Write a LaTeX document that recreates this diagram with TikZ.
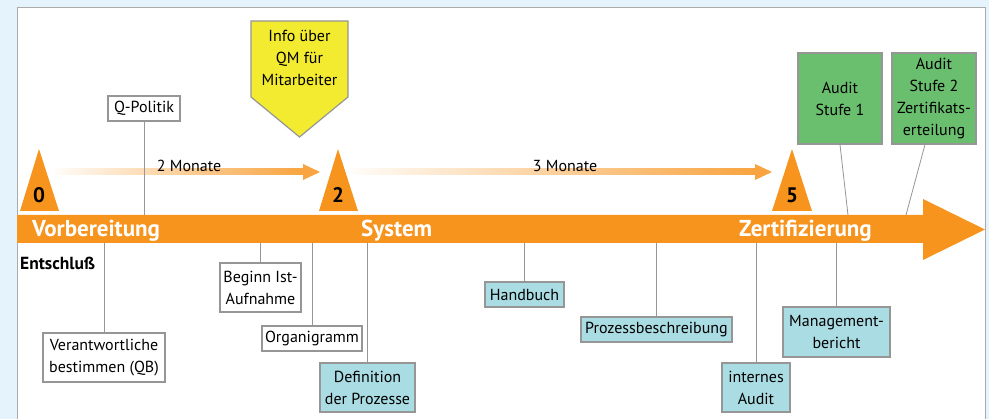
\documentclass[tikz,border=0pt]{standalone}
\usepackage{fontspec}
\setmainfont{PT Sans}
\usetikzlibrary{calc}

\definecolor{qmorange}{RGB}{247,148,30}
\definecolor{qmyellow}{RGB}{243,235,48}
\definecolor{qmgreen}{RGB}{106,191,110}
\definecolor{qmblue}{RGB}{170,220,227}
\definecolor{qmbg}{RGB}{229,244,252}
\definecolor{qmline}{RGB}{150,150,150}

\begin{document}
\begin{tikzpicture}[x=1pt,y=-1pt]
\tikzstyle{box}=[draw=qmline,line width=1.2pt,fill=white,inner sep=0pt,align=center,font=\fontsize{16}{22}\selectfont]
\tikzstyle{bluebox}=[box,fill=qmblue]
\tikzstyle{greenbox}=[box,fill=qmgreen]
\tikzstyle{stem}=[draw=qmline,line width=0.8pt]
\tikzstyle{phase}=[text=white,inner sep=0pt,anchor=base west,font=\fontsize{23}{26}\selectfont\bfseries]
\tikzstyle{milestone}=[fill=qmorange]
\tikzstyle{msnum}=[inner sep=0pt,font=\fontsize{21}{24}\selectfont\bfseries]
\tikzstyle{months}=[inner sep=0pt,font=\fontsize{16}{18}\selectfont]

\useasboundingbox (0,0) rectangle (989,419);
% ========= background
\fill [qmbg] (0,0) rectangle (989,419);
\filldraw [fill=white,draw=qmline!80,line width=0.8pt] (17,7) rectangle (985,430);

% ========= time axis
\fill [qmorange] (17,215) -- (923,215) -- (923,199) -- (985,229.5) -- (923,260) -- (923,243) -- (17,243) -- cycle;
\coordinate (bandtop) at (0,215);
\coordinate (bandbot) at (0,243);

\node (vorb) [phase] at (32,236.5) {Vorbereitung};
\node (syst) [phase] at (361,236.5) {System};
\node (zert) [phase] at (739,236.5) {Zertifizierung};

\node (entsch) [inner sep=0pt,anchor=west,font=\fontsize{17.5}{20}\selectfont\bfseries] at (20,263) {Entschluß};

% ========= milestones
\fill [milestone] (20,211) -- (39,149) -- (59,211) -- cycle;
\node (ms0) [msnum] at (39,195) {0};
\fill [milestone] (319,211) -- (338,149) -- (358,211) -- cycle;
\node (ms2) [msnum] at (338,195) {2};
\fill [milestone] (772,211) -- (792,149) -- (812,211) -- cycle;
\node (ms5) [msnum] at (792,195) {5};

% ====== durations
\shade [left color=qmorange!3,right color=qmorange!85] (55,169) rectangle (303,175);
\fill [qmorange!85] (303,164) -- (320,172) -- (303,180) -- cycle;
\node (mon2) [months] at (189,166) {2 Monate};

\shade [left color=qmorange!3,right color=qmorange!85] (352,169) rectangle (755,175);
\fill [qmorange!85] (755,164) -- (772,172) -- (755,180) -- cycle;
\node (mon3) [months] at (565,166) {3 Monate};

% ========= info
\filldraw [fill=qmyellow,draw=qmline,line width=1.2pt] (251,21) -- (348,21) -- (348,97) -- (299.5,137) -- (251,97) -- cycle;
\node (info) [inner sep=0pt,align=center,font=\fontsize{16}{22}\selectfont] at (299.5,58) {Info über\\QM für\\Mitarbeiter};

% ========= tasks
\node (qpol) [box,minimum width=72pt,minimum height=25pt] at (144,108.5) {Q-Politik};
\node (verant) [box,minimum width=122pt,minimum height=49pt] at (104,357.5) {Verantwortliche\\bestimmen (QB)};
\node (beginn) [box,minimum width=81pt,minimum height=49pt] at (260.5,287.5) {Beginn Ist-\\Aufnahme};
\node (organ) [box,minimum width=100pt,minimum height=25pt] at (312,338.5) {Organigramm};
\node (defin) [bluebox,minimum width=95pt,minimum height=49pt] at (367.5,387.5) {Definition\\der Prozesse};
\node (handb) [bluebox,minimum width=79pt,minimum height=25pt] at (524.5,294.5) {Handbuch};
\node (proz) [bluebox,minimum width=151pt,minimum height=25pt] at (656.5,329.5) {Prozessbeschreibung};
\node (intern) [bluebox,minimum width=68pt,minimum height=49pt] at (756,387.5) {internes\\Audit};
\node (manag) [bluebox,minimum width=107pt,minimum height=50pt] at (836.5,332) {Management-\\bericht};
\node (aud1) [greenbox,minimum width=84pt,minimum height=91pt] at (840,98.5) {Audit\\Stufe 1};
\node (aud2) [greenbox,minimum width=84pt,minimum height=91pt] at (934,98.5) {Audit\\Stufe 2\\Zertifikats-\\erteilung};

% ====== connections
\draw [stem] (qpol.south) -- (qpol.south |- bandtop);
\draw [stem] (verant.north) -- (verant.north |- bandbot);
\draw [stem] (beginn.north) -- (beginn.north |- bandbot);
\draw [stem] (organ.north) -- (organ.north |- bandbot);
\draw [stem] (defin.north) -- (defin.north |- bandbot);
\draw [stem] (handb.north) -- (handb.north |- bandbot);
\draw [stem] (proz.north) -- (proz.north |- bandbot);
\draw [stem] (intern.north) -- (intern.north |- bandbot);
\draw [stem] (manag.north) -- (manag.north |- bandbot);
\coordinate (aud1foot) at (848,215);
\draw [stem] (aud1.south) -- (aud1foot);
\coordinate (aud2top) at ($(aud2.south)+(-9,0)$);
\coordinate (aud2foot) at (906,215);
\draw [stem] (aud2top) -- (aud2foot);
\end{tikzpicture}
\end{document}
